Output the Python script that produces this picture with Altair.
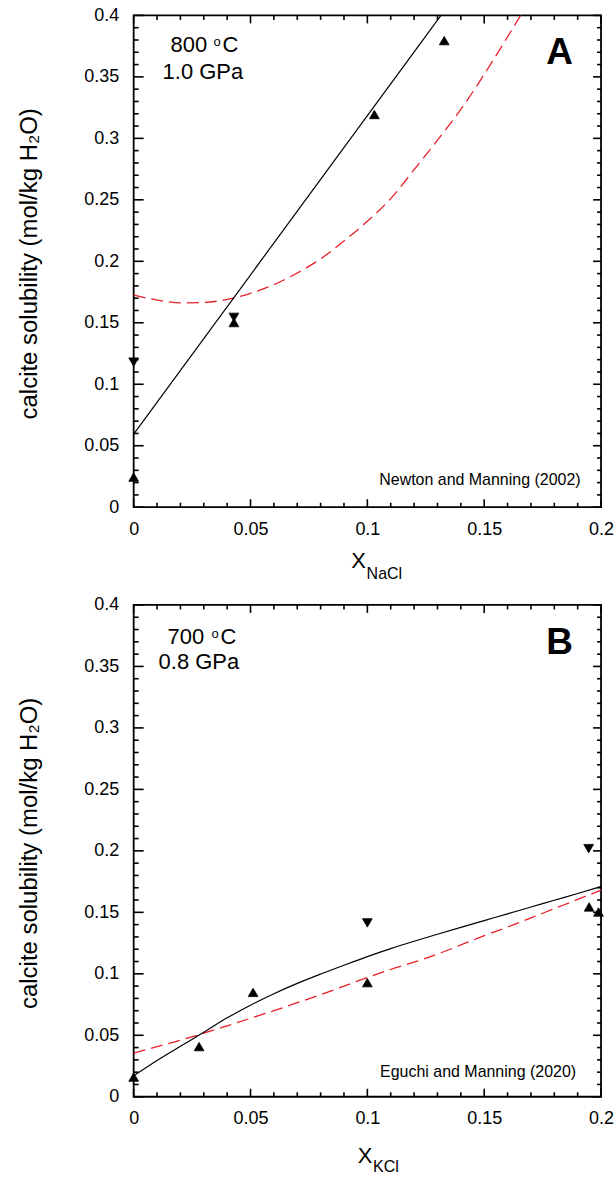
import altair as alt
import pandas as pd

# ---------------- data ----------------
# Panel A  (800 °C, 1.0 GPa, NaCl)
a_pts_x = [0.0, 0.0, 0.0429, 0.0429, 0.103, 0.1329]
a_pts_y = [0.0245, 0.118, 0.1544, 0.1502, 0.3194, 0.3795]
a_pts_shape = ["triangle-up", "triangle-down", "triangle-down", "triangle-up",
               "triangle-up", "triangle-up"]

a_fit_x = [0.0, 0.1315]
a_fit_y = [0.0595, 0.4]

a_model_x = [0.0, 0.01, 0.02, 0.03, 0.04, 0.05, 0.06, 0.07, 0.08, 0.09,
             0.10, 0.11, 0.12, 0.13, 0.14, 0.15, 0.16, 0.17]
a_model_y = [0.1725, 0.1685, 0.1662, 0.1665, 0.169, 0.174, 0.181, 0.1905, 0.202,
             0.2165, 0.2325, 0.251, 0.2745, 0.2985, 0.3235, 0.352, 0.3825, 0.414]

# Panel B  (700 °C, 0.8 GPa, KCl)
b_pts_x = [0.0, 0.028, 0.0511, 0.1, 0.1, 0.1949, 0.1989, 0.1947]
b_pts_y = [0.016, 0.0408, 0.0849, 0.0928, 0.1414, 0.1544, 0.1503, 0.2018]
b_pts_shape = ["triangle-up", "triangle-up", "triangle-up", "triangle-up",
               "triangle-down", "triangle-up", "triangle-up", "triangle-down"]

b_fit_x = [0.0, 0.01, 0.02, 0.03, 0.04, 0.05, 0.06, 0.07, 0.08, 0.09, 0.10,
           0.11, 0.12, 0.13, 0.14, 0.15, 0.16, 0.17, 0.18, 0.19, 0.20]
b_fit_y = [0.017, 0.0295, 0.041, 0.0525, 0.0642, 0.0745, 0.0838, 0.0922, 0.0998,
           0.1070, 0.1140, 0.1205, 0.1265, 0.1322, 0.1378, 0.1433, 0.1488, 0.1543,
           0.1598, 0.1653, 0.171]

b_model_x = b_fit_x
b_model_y = [0.0355, 0.0408, 0.046, 0.0517, 0.0577, 0.0638, 0.070, 0.0765, 0.083,
             0.090, 0.097, 0.1035, 0.1095, 0.116, 0.1235, 0.131, 0.138, 0.1455,
             0.153, 0.1605, 0.168]

# axis ticks
x_major = [0, 0.05, 0.1, 0.15, 0.2]
x_minor = [round(i * 0.01, 2) for i in range(1, 20) if i % 5 != 0]
y_major = [0, 0.05, 0.1, 0.15, 0.2, 0.25, 0.3, 0.35, 0.4]
y_minor = [round(i * 0.01, 2) for i in range(1, 40) if i % 5 != 0]

FONT = "Liberation Sans"
W, H = 468.5, 493
RED = "#e8202a"
TICK_W = 1.6
dummy = pd.DataFrame({"k": [0]})


def txt(s, x, y, size, align="left", weight="normal"):
    return alt.Chart(dummy).mark_text(
        text=s, fontSize=size, align=align, baseline="alphabetic",
        fontWeight=weight, color="black", font=FONT
    ).encode(x=alt.value(x), y=alt.value(y))


def panel(px, py, pshape, fx, fy, mx, my, texts):
    X = alt.X("x:Q", scale=alt.Scale(domain=[0, 0.2], nice=False, zero=False),
              axis=alt.Axis(values=x_major, format="~g", labelFlush=False,
                            labelOverlap=False, ticks=False, tickSize=0,
                            domain=False, grid=False, labelPadding=13,
                            labelFontSize=18, labelColor="black", labelFont=FONT,
                            title=None))
    Y = alt.Y("y:Q", scale=alt.Scale(domain=[0, 0.4], nice=False, zero=False),
              axis=alt.Axis(values=y_major, format="~g", labelFlush=False,
                            labelOverlap=False, ticks=False, tickSize=0,
                            domain=False, grid=False, labelPadding=15,
                            labelFontSize=18, labelColor="black", labelFont=FONT,
                            title="calcite solubility (mol/kg H₂O)",
                            titleFontSize=24, titleFontWeight="normal",
                            titleColor="black", titleFont=FONT,
                            titleX=-97, titleY=H / 2 + 2,
                            titleBaseline="alphabetic"))

    model = alt.Chart(pd.DataFrame({"x": mx, "y": my})).mark_line(
        color=RED, strokeDash=[12, 6], strokeWidth=1.3, clip=True,
        interpolate="monotone").encode(x=X, y=Y)
    fit = alt.Chart(pd.DataFrame({"x": fx, "y": fy})).mark_line(
        color="black", strokeWidth=1.2, clip=True,
        interpolate="monotone").encode(x=X, y=Y)
    pts = alt.Chart(pd.DataFrame({"x": px, "y": py, "shape": pshape})).mark_point(
        filled=True, color="black", stroke="black", strokeWidth=0.8,
        opacity=1, size=95).encode(
        x=X, y=Y, shape=alt.Shape("shape:N", scale=None))

    layers = [model, fit, pts]
    # inward ticks on all four sides
    for vals, ln in ((x_major, 8), (x_minor, 4.5)):
        d = pd.DataFrame({"x": vals})
        layers.append(alt.Chart(d).mark_rule(color="#000000", strokeWidth=TICK_W).encode(
            x=X, y=alt.value(H), y2=alt.value(H - ln)))
        layers.append(alt.Chart(d).mark_rule(color="#000000", strokeWidth=TICK_W).encode(
            x=X, y=alt.value(0), y2=alt.value(ln)))
    for vals, ln in ((y_major, 10), (y_minor, 5)):
        d = pd.DataFrame({"y": vals})
        layers.append(alt.Chart(d).mark_rule(color="#000000", strokeWidth=TICK_W).encode(
            y=Y, x=alt.value(0), x2=alt.value(ln)))
        layers.append(alt.Chart(d).mark_rule(color="#000000", strokeWidth=TICK_W).encode(
            y=Y, x=alt.value(W - ln * 0.8), x2=alt.value(W)))
    layers += texts
    return alt.layer(*layers).properties(width=W, height=H)


texts_a = [
    txt("800", 37, 37, 22),
    txt("o", 80, 31, 13),
    txt("C", 89, 37, 22),
    txt("1.0 GPa", 29, 63.7, 22),
    txt("A", 427, 49, 37, align="center", weight="bold"),
    txt("Newton and Manning (2002)", 448, 470.3, 16, align="right"),
    txt("X", 218, 553.7, 22),
    txt("NaCl", 233.5, 564.7, 16),
]
texts_b = [
    txt("700", 34, 39, 22),
    txt("o", 78, 33, 13),
    txt("C", 87, 39, 22),
    txt("0.8 GPa", 25, 64, 22),
    txt("B", 427, 49, 37, align="center", weight="bold"),
    txt("Eguchi and Manning (2020)", 443.5, 473, 16, align="right"),
    txt("X", 224.5, 559, 22),
    txt("KCl", 240, 568.7, 16),
]

pa = panel(a_pts_x, a_pts_y, a_pts_shape, a_fit_x, a_fit_y,
           a_model_x, a_model_y, texts_a)
pb = panel(b_pts_x, b_pts_y, b_pts_shape, b_fit_x, b_fit_y,
           b_model_x, b_model_y, texts_b)

chart = alt.vconcat(pa, pb, spacing=98, bounds="flush").properties(
    padding={"left": 17, "top": 4, "right": 0, "bottom": 0},
    background="white",
).configure(font=FONT).configure_view(stroke="black", strokeWidth=1.8)

chart.save("out.html", embed_options={"renderer": "svg", "actions": False})
